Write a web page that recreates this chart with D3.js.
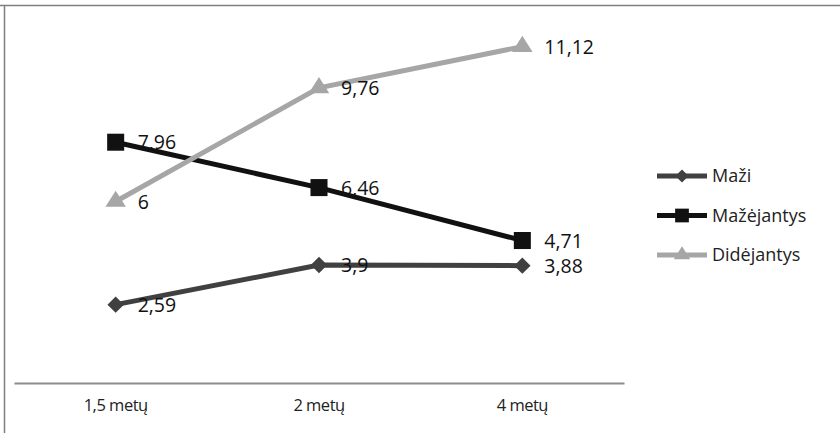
<!DOCTYPE html>
<html>
<head>
<meta charset="utf-8">
<script src="https://cdn.jsdelivr.net/npm/d3@7"></script>
<style>
  html, body { margin: 0; padding: 0; background: #fff; }
  svg { display: block; }
</style>
</head>
<body>
<svg id="chart" width="840" height="433"></svg>
<script>
// Categories and series
const categories = ["1,5 metų", "2 metų", "4 metų"];
const seriesNames = ["Maži", "Mažėjantys", "Didėjantys"];
const maziValues = [2.59, 3.9, 3.88];
const mazejantysValues = [7.96, 6.46, 4.71];
const didejantysValues = [6, 9.76, 11.12];
const yDomain = [0, 12];

// Marker styles: diamonds are squares turned 45 degrees
const series = [
  { name: seriesNames[0], values: maziValues, color: "#404040", symbol: d3.symbolSquare, size: 135, rot: 45, sx: 1 },
  { name: seriesNames[1], values: mazejantysValues, color: "#111111", symbol: d3.symbolSquare, size: 290, rot: 0, sx: 1 },
  { name: seriesNames[2], values: didejantysValues, color: "#a6a6a6", symbol: d3.symbolTriangle, size: 150, rot: 0, sx: 1.1 }
];

const fmt = v => String(v).replace(".", ",");

const svg = d3.select("#chart");

// Outer frame (top and left edges)
svg.append("line").attr("x1", 0).attr("x2", 840).attr("y1", 5.5).attr("y2", 5.5)
  .attr("stroke", "#7f7f7f").attr("stroke-width", 1.5);
svg.append("line").attr("x1", 4.5).attr("x2", 4.5).attr("y1", 5).attr("y2", 433)
  .attr("stroke", "#7f7f7f").attr("stroke-width", 1.5);

const plot = { left: 14, right: 624, top: 20, bottom: 383 };

const x = d3.scaleBand().domain(categories).range([plot.left, plot.right]);
const y = d3.scaleLinear().domain(yDomain).range([plot.bottom, plot.top]);
const cx = c => x(c) + x.bandwidth() / 2;

// Category axis
const xAxis = svg.append("g").attr("transform", `translate(0,${plot.bottom})`)
  .call(d3.axisBottom(x).tickSize(0).tickPadding(16));
xAxis.select(".domain").attr("stroke", "#8c8c8c").attr("stroke-width", 2);
xAxis.selectAll("text")
  .attr("font-family", "'Open Sans', sans-serif")
  .attr("font-size", 16.5).attr("letter-spacing", "-0.5px").attr("fill", "#222");

const line = d3.line().x((d, i) => cx(categories[i])).y(d => y(d));

// Lines
series.forEach(s => {
  svg.append("path").datum(s.values)
    .attr("d", line).attr("fill", "none")
    .attr("stroke", s.color).attr("stroke-width", 5);
});

// Markers
series.forEach(s => {
  svg.append("g").selectAll("path").data(s.values).join("path")
    .attr("d", d3.symbol().type(s.symbol).size(s.size))
    .attr("transform", (d, i) => `translate(${cx(categories[i])},${y(d)}) rotate(${s.rot}) scale(${s.sx},1)`)
    .attr("fill", s.color);
});

// Data labels
series.forEach(s => {
  svg.append("g").selectAll("text").data(s.values).join("text")
    .attr("x", (d, i) => cx(categories[i]) + 22)
    .attr("y", d => y(d))
    .attr("dy", "0.36em")
    .attr("font-family", "'Open Sans', sans-serif")
    .attr("font-size", 19.5).attr("fill", "#111")
    .text(d => fmt(d));
});

// Legend
const legend = svg.append("g").attr("transform", "translate(657,176)");
series.forEach((s, i) => {
  const g = legend.append("g").attr("transform", `translate(0,${i * 39.5})`);
  g.append("line").attr("x1", 0).attr("x2", 50).attr("y1", 0).attr("y2", 0)
    .attr("stroke", s.color).attr("stroke-width", 5);
  g.append("path").attr("d", d3.symbol().type(s.symbol).size(s.size * 0.65))
    .attr("transform", `translate(25,0) rotate(${s.rot}) scale(${s.sx},1)`)
    .attr("fill", s.color);
  g.append("text").attr("x", 55).attr("y", 0).attr("dy", "0.35em")
    .attr("font-family", "'Open Sans', sans-serif")
    .attr("font-size", 18).attr("fill", "#222")
    .text(s.name);
});
</script>
</body>
</html>
